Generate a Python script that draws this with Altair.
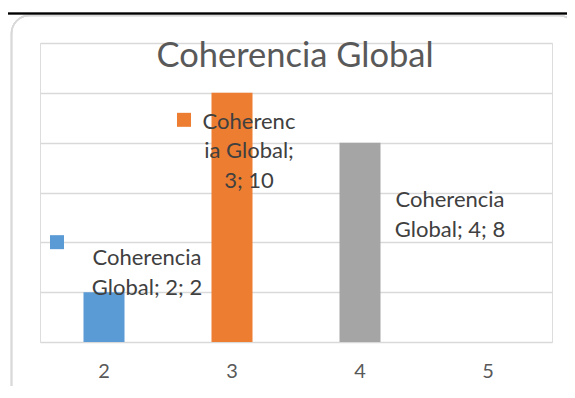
import altair as alt
import pandas as pd

# ---- data ----
categories = ["2", "3", "4", "5"]
values = [2, 10, 8, 0]
bar_colors = ["#5B9BD5", "#ED7D31", "#A5A5A5", "#FFC000"]
series_name = "Coherencia Global"
title_text = "Coherencia Global"
label_texts = ["Coherencia\nGlobal; 2; 2", "Coherenc\nia Global;\n3; 10", "Coherencia\nGlobal; 4; 8"]
grid_values = [0, 2, 4, 6, 8, 10, 12]

df = pd.DataFrame({"cat": categories, "val": values})
FONT = "Lato"

x_enc = alt.X("cat:N", sort=categories,
              scale=alt.Scale(paddingInner=0, paddingOuter=0),
              axis=alt.Axis(title=None, labelAngle=0, ticks=False, domain=False,
                            labelColor="#595959", labelFont=FONT, labelFontSize=20,
                            labelPadding=19, grid=False))
y_enc = alt.Y("val:Q", scale=alt.Scale(domain=[0, 12], nice=False),
              axis=alt.Axis(title=None, labels=False, ticks=False, domain=False,
                            values=grid_values, grid=True, gridColor="#d9d9d9",
                            gridWidth=1.5))

color_enc = alt.Color("cat:N", scale=alt.Scale(domain=categories, range=bar_colors), legend=None)

base = alt.Chart(df)

# decoration: outer border and top black line
border = base.mark_rect(filled=False, stroke="#d9d9d9", strokeWidth=1.5,
                        cornerRadius=18).encode(
    x=alt.value(-28.5), x2=alt.value(537), y=alt.value(-27.5), y2=alt.value(370))
topline = base.mark_rule(color="black", strokeWidth=1.5).encode(
    x=alt.value(-40), x2=alt.value(540), y=alt.value(-29.5))

bars = base.mark_bar(size=41).encode(x=x_enc, y=y_enc, color=color_enc)

title = alt.Chart(pd.DataFrame({"t": [title_text]})).mark_text(
    font=FONT, fontSize=34.5, color="#595959", align="center", baseline="alphabetic"
).encode(text="t:N", x=alt.value(255), y=alt.value(24))

lab_df = pd.DataFrame({"cat": categories[:3], "val": values[:3], "lab": label_texts})
label_style = dict(font=FONT, fontSize=22, color="#404040", align="center",
                   baseline="middle", lineBreak="\n", lineHeight=29.5)
offsets = [(43, -34), (17, 29), (90, 57.5)]
label_layers = []
for i, (dx, dy) in enumerate(offsets):
    label_layers.append(
        alt.Chart(lab_df.iloc[[i]]).mark_text(dx=dx, dy=dy, **label_style).encode(
            x=alt.X("cat:N", sort=categories), y=alt.Y("val:Q"), text="lab:N"))

key_df = pd.DataFrame({"cat": categories[:2], "val": values[:2]})
key_offsets = [(-47, -50), (-48, 27)]
key_layers = []
for i, (xo, yo) in enumerate(key_offsets):
    key_layers.append(
        alt.Chart(key_df.iloc[[i]]).mark_square(size=196, opacity=1, xOffset=xo, yOffset=yo).encode(
            x=alt.X("cat:N", sort=categories), y=alt.Y("val:Q"), color=color_enc))

chart = alt.layer(border, topline, bars, title, *label_layers, *key_layers).properties(
    width=512, height=299,
    autosize=alt.AutoSizeParams(type="none"),
    padding={"left": 32, "top": 35, "right": 15, "bottom": 44},
).configure_view(stroke=None).configure(background="white")

chart.save("out.html", embed_options={"renderer": "svg", "actions": False})
